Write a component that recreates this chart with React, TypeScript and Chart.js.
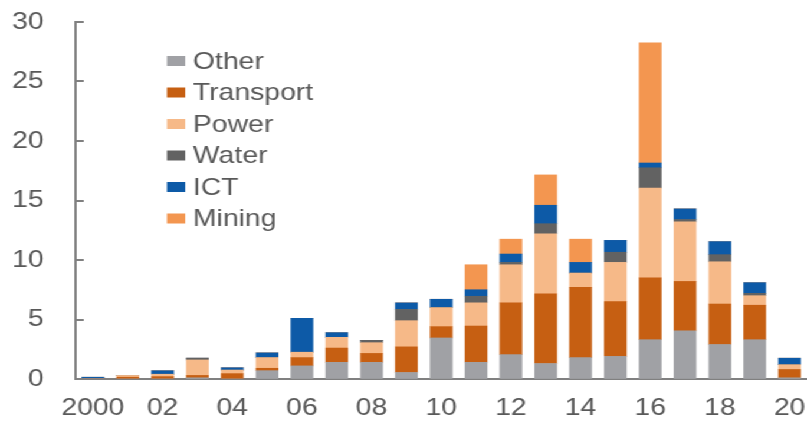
import React, { useEffect, useRef } from "react";
import { Chart, registerables } from "chart.js";

Chart.register(...registerables);

const years = [
  "2000", "2001", "2002", "2003", "2004", "2005", "2006", "2007", "2008", "2009", "2010",
  "2011", "2012", "2013", "2014", "2015", "2016", "2017", "2018", "2019", "2020",
];
const xTickLabels = [
  "2000", "", "02", "", "04", "", "06", "", "08", "", "10",
  "", "12", "", "14", "", "16", "", "18", "", "20",
];

const other = [0, 0, 0, 0.1, 0, 0.7, 1.1, 1.4, 1.4, 0.55, 3.45, 1.4, 2.05, 1.3, 1.8, 1.9, 3.3, 4.05, 2.9, 3.3, 0.1];
const transport = [0, 0.15, 0.2, 0.2, 0.45, 0.2, 0.7, 1.2, 0.75, 2.15, 0.95, 3.05, 4.35, 5.85, 5.9, 4.6, 5.2, 4.15, 3.4, 2.9, 0.7];
const power = [0, 0.15, 0.2, 1.3, 0.3, 0.9, 0.45, 0.9, 0.9, 2.2, 1.6, 1.95, 3.2, 5.05, 1.2, 3.3, 7.55, 5.0, 3.55, 0.8, 0.4];
const water = [0, 0, 0, 0.15, 0, 0, 0, 0, 0.2, 0.95, 0, 0.55, 0.2, 0.85, 0, 0.85, 1.7, 0.2, 0.6, 0.2, 0];
const ict = [0.15, 0, 0.3, 0, 0.2, 0.4, 2.85, 0.4, 0, 0.55, 0.7, 0.55, 0.7, 1.55, 0.9, 1.0, 0.4, 0.9, 1.1, 0.9, 0.55];
const mining = [0, 0, 0, 0, 0, 0, 0, 0, 0, 0, 0, 2.1, 1.25, 2.55, 1.95, 0, 10.1, 0, 0, 0, 0];

const seriesNames = ["Other", "Transport", "Power", "Water", "ICT", "Mining"];
const seriesValues = [other, transport, power, water, ict, mining];
const seriesColors = ["#a0a1a5", "#c65f12", "#f6b988", "#626262", "#0d5aa7", "#f39650"];

const FONT = "'Liberation Sans', Arial, sans-serif";
const TEXT = "#595959";
const AXIS = "#808080";

const insideLegend = {
  id: "insideLegend",
  afterDraw(chart: any) {
    const ctx = chart.ctx;
    ctx.save();
    ctx.font = `24px ${FONT}`;
    ctx.textBaseline = "middle";
    ctx.textAlign = "left";
    chart.data.datasets.forEach((ds: any, i: number) => {
      const y = 61 + i * 31.5;
      ctx.fillStyle = ds.backgroundColor;
      ctx.fillRect(141.5, y - 5, 15.5, 10);
      ctx.fillStyle = TEXT;
      ctx.fillText(ds.label, 163.6, y + 1);
    });
    ctx.restore();
  },
};

const innerTicks = {
  id: "innerTicks",
  afterDraw(chart: any) {
    const ctx = chart.ctx;
    const ys = chart.scales.y;
    const left = chart.chartArea.left;
    ctx.save();
    ctx.strokeStyle = AXIS;
    ctx.lineWidth = 2;
    ctx.beginPath();
    ys.ticks.forEach((t: any) => {
      const py = Math.round(ys.getPixelForValue(t.value));
      ctx.moveTo(left, py);
      ctx.lineTo(left + 7, py);
    });
    ctx.stroke();
    ctx.restore();
  },
};

export default function App() {
  const ref = useRef<HTMLCanvasElement | null>(null);

  useEffect(() => {
    document.body.style.margin = "0";
    document.body.style.overflow = "hidden";
    if (!ref.current) return;
    const chart = new Chart(ref.current, {
      type: "bar",
      data: {
        labels: years,
        datasets: seriesNames.map((name, i) => ({
          label: name,
          data: seriesValues[i],
          backgroundColor: seriesColors[i],
          borderWidth: 0,
          barThickness: 18.6,
        })),
      },
      options: {
        animation: false,
        responsive: true,
        maintainAspectRatio: false,
        layout: { padding: { top: 22, left: 0, right: 0, bottom: 0 } },
        plugins: {
          legend: { display: false },
          tooltip: { enabled: false },
        },
        scales: {
          x: {
            stacked: true,
            grid: { display: true, drawOnChartArea: false, drawTicks: false },
            border: { display: true, color: AXIS, width: 2 },
            ticks: {
              autoSkip: false,
              maxRotation: 0,
              padding: 15,
              color: TEXT,
              font: { family: FONT, size: 24 },
              callback: (_v: any, i: number) => xTickLabels[i],
            },
            afterFit: (s: any) => {
              s.height = 45;
              s.paddingLeft = 0;
              s.paddingRight = 0;
            },
          },
          y: {
            stacked: true,
            min: 0,
            max: 30,
            grid: { display: true, drawOnChartArea: false, drawTicks: false },
            border: { display: true, color: AXIS, width: 2 },
            ticks: {
              stepSize: 5,
              padding: 27,
              color: TEXT,
              font: { family: FONT, size: 24 },
            },
            afterFit: (s: any) => {
              s.width = 64;
              s.paddingTop = 0;
              s.paddingBottom = 0;
            },
          },
        },
      },
      plugins: [insideLegend, innerTicks],
    });
    return () => chart.destroy();
  }, []);

  return (
    <div
      style={{
        position: "fixed",
        left: 0,
        top: 0,
        width: 684,
        height: 424,
        transform: "scaleX(1.1798)",
        transformOrigin: "0 0",
        background: "#fff",
      }}
    >
      <canvas ref={ref} />
    </div>
  );
}
